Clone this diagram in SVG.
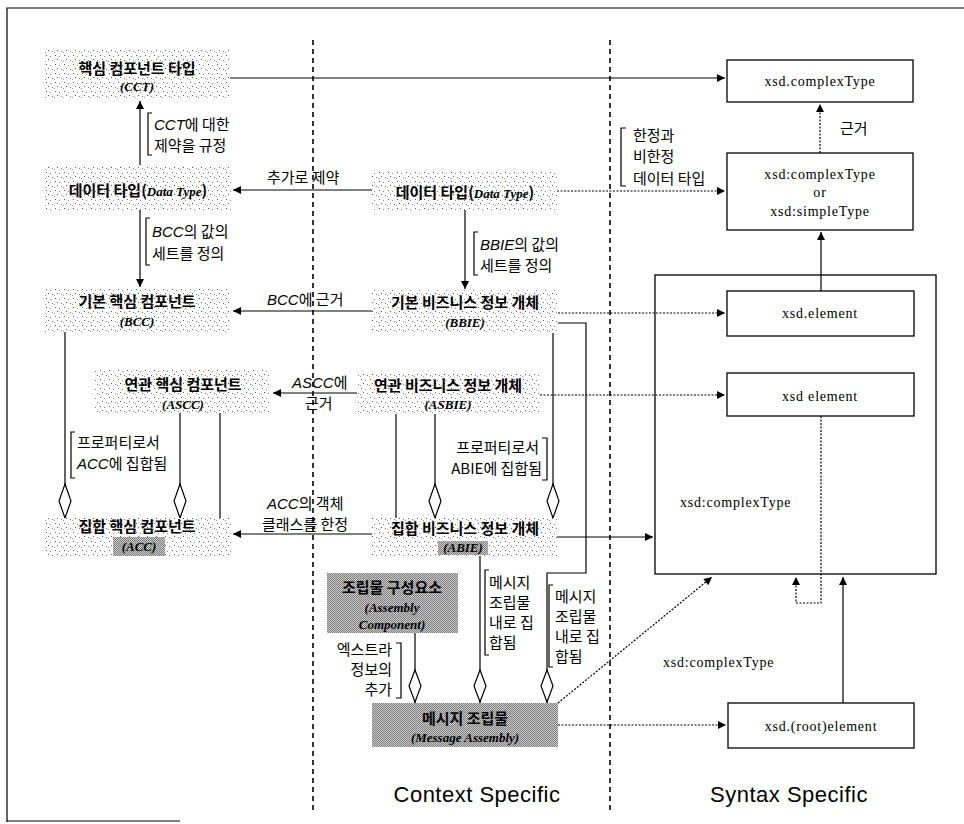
<svg xmlns="http://www.w3.org/2000/svg" width="964" height="824" viewBox="0 0 964 824">
<defs>
<pattern id="stip" width="9" height="9" patternUnits="userSpaceOnUse">
<rect width="9" height="9" fill="#fff"/>
<rect x="1" y="1" width="1" height="1" fill="#555"/>
<rect x="5" y="2" width="1" height="1" fill="#888"/>
<rect x="3" y="5" width="1" height="1" fill="#555"/>
<rect x="7" y="6" width="1" height="1" fill="#777"/>
<rect x="0" y="7" width="1" height="1" fill="#999"/>
</pattern>
<pattern id="dark" width="2" height="2" patternUnits="userSpaceOnUse">
<rect width="2" height="2" fill="#c8c8c8"/>
<rect x="0" y="0" width="1" height="1" fill="#808080"/>
<rect x="1" y="1" width="1" height="1" fill="#808080"/>
</pattern>
<marker id="ah" viewBox="0 0 10 10" refX="10" refY="5" markerWidth="9" markerHeight="8" orient="auto" markerUnits="userSpaceOnUse">
<path d="M0,0 L10,5 L0,10 z" fill="#000"/>
</marker>
</defs>
<style>
.ln{fill:none;stroke:#000;stroke-width:1.2}
.dot{fill:none;stroke:#000;stroke-width:1.2;stroke-dasharray:2 1.5}
.sep{fill:none;stroke:#000;stroke-width:1.6;stroke-dasharray:5 4}
.dia{fill:#fff;stroke:#000;stroke-width:1.2}
.st{fill:url(#stip)}
.dk{fill:url(#dark)}
.box{fill:#fff;stroke:#000;stroke-width:1.3}
.nk{font-family:"Noto Sans CJK KR","Noto Sans",sans-serif;font-size:15px;font-weight:bold;fill:#000}
.ni{font-family:"Liberation Serif",serif;font-size:13px;font-weight:bold;font-style:italic;fill:#000}
.an{font-family:"Noto Sans CJK KR","Noto Sans",sans-serif;font-size:15px;fill:#000}
.ai{font-family:"Liberation Sans",sans-serif;font-style:italic}
.xs{font-family:"Liberation Serif",serif;font-size:14px;letter-spacing:0.8px;fill:#000}
.big{font-family:"Liberation Sans",sans-serif;font-size:22px;letter-spacing:0.5px;fill:#000}
</style>

<g id="frame">
<path class="ln" d="M7,822 V8 H964"/>
<path class="ln" d="M7,821 H180"/>
<path class="sep" d="M313,40 V812"/>
<path class="sep" d="M610,40 V812"/>
</g>

<g id="connectors">
<path class="ln" d="M230,78 H725" marker-end="url(#ah)"/>
<path class="ln" d="M140,165 V101" marker-end="url(#ah)"/>
<path class="ln" d="M372,190 H233" marker-end="url(#ah)"/>
<path class="dot" d="M557,191 H725" marker-end="url(#ah)"/>
<path class="dot" d="M820,153 V104" marker-end="url(#ah)"/>
<path class="ln" d="M140,210 V287" marker-end="url(#ah)"/>
<path class="ln" d="M465,210 V289" marker-end="url(#ah)"/>
<path class="ln" d="M372,311 H233" marker-end="url(#ah)"/>
<path class="dot" d="M558,313 H725" marker-end="url(#ah)"/>
<path class="ln" d="M357,393 H273" marker-end="url(#ah)"/>
<path class="dot" d="M540,395 H725" marker-end="url(#ah)"/>
<path class="ln" d="M372,534 H233" marker-end="url(#ah)"/>
<path class="ln" d="M557,537 H653" stroke-width="1.6" marker-end="url(#ah)"/>
<path class="ln" d="M65,332 V520"/>
<polygon class="dia" points="65,484 71,501 65,518 59,501"/>
<path class="ln" d="M180,413 V520"/>
<polygon class="dia" points="180,484 186,501 180,518 174,501"/>
<path class="ln" d="M220,413 V520"/>
<path class="ln" d="M553,333 V520"/>
<polygon class="dia" points="553,484 559,501 553,518 547,501"/>
<path class="ln" d="M558,323 H586 V573 H547 V703"/>
<polygon class="dia" points="547,670 553,686 547,702 541,686"/>
<path class="ln" d="M435,414 V520"/>
<polygon class="dia" points="435,484 441,501 435,518 429,501"/>
<path class="ln" d="M396,414 V520"/>
<path class="ln" d="M480,556 V703"/>
<polygon class="dia" points="480,670 486,686 480,702 474,686"/>
<path class="ln" d="M415,632 V703"/>
<polygon class="dia" points="415,670 421,686 415,702 409,686"/>
<path class="dot" d="M558,703 L712,577" marker-end="url(#ah)"/>
<path class="dot" d="M558,725 H726" marker-end="url(#ah)"/>
<path class="ln" d="M843,703 V577" marker-end="url(#ah)"/>
<path class="ln" d="M821,291 V232" marker-end="url(#ah)"/>
<path class="dot" d="M821,416 V603 H796 V577" marker-end="url(#ah)"/>
</g>

<g id="labels">
<path class="ln" d="M152,113 H148 V155 H152"/>
<text class="an" x="154" y="130"><tspan class="ai">CCT</tspan>에 대한</text>
<text class="an" x="154" y="151">제약을 규정</text>
<text class="an" x="267" y="183">추가로 제약</text>
<path class="ln" d="M150,218 H146 V265 H150"/>
<text class="an" x="152" y="237"><tspan class="ai">BCC</tspan>의 값의</text>
<text class="an" x="152" y="259">세트를 정의</text>
<path class="ln" d="M478,232 H474 V275 H478"/>
<text class="an" x="480" y="250"><tspan class="ai">BBIE</tspan>의 값의</text>
<text class="an" x="480" y="271">세트를 정의</text>
<path class="ln" d="M626,128 H621 V186 H626"/>
<text class="an" x="633" y="141">한정과</text>
<text class="an" x="633" y="162">비한정</text>
<text class="an" x="633" y="184">데이터 타입</text>
<text class="an" x="840" y="134">근거</text>
<text class="an" x="267" y="305"><tspan class="ai">BCC</tspan>에 근거</text>
<text class="an" x="292" y="388"><tspan class="ai">ASCC</tspan>에</text>
<text class="an" x="305" y="409">근거</text>
<path class="ln" d="M75,432 H71 V478 H75"/>
<text class="an" x="77" y="448">프로퍼티로서</text>
<text class="an" x="77" y="469"><tspan class="ai">ACC</tspan>에 집합됨</text>
<path class="ln" d="M542,438 H547 V480 H542"/>
<text class="an" x="539" y="453" text-anchor="end">프로퍼티로서</text>
<text class="an" x="542" y="474" text-anchor="end">ABIE에 집합됨</text>
<text class="an" x="267" y="509"><tspan class="ai">ACC</tspan>의 객체</text>
<text class="an" x="262" y="530">클래스를 한정</text>
<path class="ln" d="M489,570 H485 V655 H489"/>
<text class="an" x="489" y="588">메시지</text>
<text class="an" x="489" y="608">조립물</text>
<text class="an" x="489" y="628">내로 집</text>
<text class="an" x="489" y="648">합됨</text>
<path class="ln" d="M553,585 H549 V667 H553"/>
<text class="an" x="555" y="602">메시지</text>
<text class="an" x="555" y="622">조립물</text>
<text class="an" x="555" y="642">내로 집</text>
<text class="an" x="555" y="662">합됨</text>
<path class="ln" d="M396,643 H401 V698 H396"/>
<text class="an" x="392" y="655" text-anchor="end">엑스트라</text>
<text class="an" x="392" y="675" text-anchor="end">정보의</text>
<text class="an" x="392" y="695" text-anchor="end">추가</text>
<text class="xs" x="663" y="667">xsd:complexType</text>
<text class="big" x="477" y="802" text-anchor="middle">Context Specific</text>
<text class="big" x="789" y="802" text-anchor="middle">Syntax Specific</text>
</g>

<g id="cct">
<rect class="st" x="45" y="50" width="185" height="50"/>
<text class="nk" x="137" y="74" text-anchor="middle">핵심 컴포넌트 타입</text>
<text class="ni" x="137" y="91" text-anchor="middle">(CCT)</text>
</g>
<g id="datatype-left">
<rect class="st" x="45" y="165" width="187" height="45"/>
<text class="nk" x="138" y="196" text-anchor="middle">데이터 타입(<tspan class="ni">Data Type</tspan>)</text>
</g>
<g id="bbcc">
<rect class="st" x="45" y="288" width="185" height="44"/>
<text class="nk" x="137" y="307" text-anchor="middle">기본 핵심 컴포넌트</text>
<text class="ni" x="137" y="326" text-anchor="middle">(BCC)</text>
</g>
<g id="ascc">
<rect class="st" x="95" y="370" width="175" height="43"/>
<text class="nk" x="183" y="390" text-anchor="middle">연관 핵심 컴포넌트</text>
<text class="ni" x="183" y="409" text-anchor="middle">(ASCC)</text>
</g>
<g id="acc">
<rect class="st" x="45" y="518" width="187" height="38"/>
<rect class="dk" x="113" y="537" width="52" height="19"/>
<text class="nk" x="137" y="532" text-anchor="middle">집합 핵심 컴포넌트</text>
<text class="ni" x="139" y="551" text-anchor="middle">(ACC)</text>
</g>
<g id="datatype-mid">
<rect class="st" x="372" y="172" width="185" height="38"/>
<text class="nk" x="465" y="198" text-anchor="middle">데이터 타입(<tspan class="ni">Data Type</tspan>)</text>
</g>
<g id="bbie">
<rect class="st" x="372" y="290" width="186" height="43"/>
<text class="nk" x="465" y="308" text-anchor="middle">기본 비즈니스 정보 개체</text>
<text class="ni" x="465" y="327" text-anchor="middle">(BBIE)</text>
</g>
<g id="asbie">
<rect class="st" x="357" y="372" width="183" height="42"/>
<text class="nk" x="448" y="391" text-anchor="middle">연관 비즈니스 정보 개체</text>
<text class="ni" x="448" y="409" text-anchor="middle">(ASBIE)</text>
</g>
<g id="abie">
<rect class="st" x="372" y="518" width="185" height="38"/>
<rect class="dk" x="438" y="541" width="50" height="14"/>
<text class="nk" x="465" y="534" text-anchor="middle">집합 비즈니스 정보 개체</text>
<text class="ni" x="463" y="552" text-anchor="middle">(ABIE)</text>
</g>
<g id="assembly-component">
<rect class="dk" x="327" y="573" width="131" height="60"/>
<text class="nk" x="392" y="593" text-anchor="middle">조립물 구성요소</text>
<text class="ni" x="392" y="612" text-anchor="middle">(Assembly</text>
<text class="ni" x="392" y="629" text-anchor="middle">Component)</text>
</g>
<g id="message-assembly">
<rect class="dk" x="372" y="703" width="186" height="44"/>
<text class="nk" x="465" y="724" text-anchor="middle">메시지 조립물</text>
<text class="ni" x="465" y="742" text-anchor="middle">(Message Assembly)</text>
</g>

<g id="xsd-complextype-top">
<rect class="box" x="727" y="60" width="186" height="42"/>
<text class="xs" x="820" y="86" text-anchor="middle">xsd.complexType</text>
</g>
<g id="xsd-complex-or-simple">
<rect class="box" x="727" y="153" width="186" height="77"/>
<text class="xs" x="820" y="179" text-anchor="middle">xsd:complexType</text>
<text class="xs" x="820" y="197" text-anchor="middle">or</text>
<text class="xs" x="820" y="216" text-anchor="middle">xsd:simpleType</text>
</g>
<g id="xsd-complextype-container">
<rect x="655" y="275" width="281" height="299" fill="none" stroke="#000" stroke-width="1.3"/>
<text class="xs" x="680" y="507">xsd:complexType</text>
</g>
<g id="xsd-element-1">
<rect class="box" x="727" y="291" width="187" height="45"/>
<text class="xs" x="820" y="318" text-anchor="middle">xsd.element</text>
</g>
<g id="xsd-element-2">
<rect class="box" x="727" y="373" width="187" height="43"/>
<text class="xs" x="820" y="401" text-anchor="middle">xsd element</text>
</g>
<g id="xsd-root-element">
<rect class="box" x="728" y="703" width="186" height="45"/>
<text class="xs" x="821" y="731" text-anchor="middle">xsd.(root)element</text>
</g>
</svg>
